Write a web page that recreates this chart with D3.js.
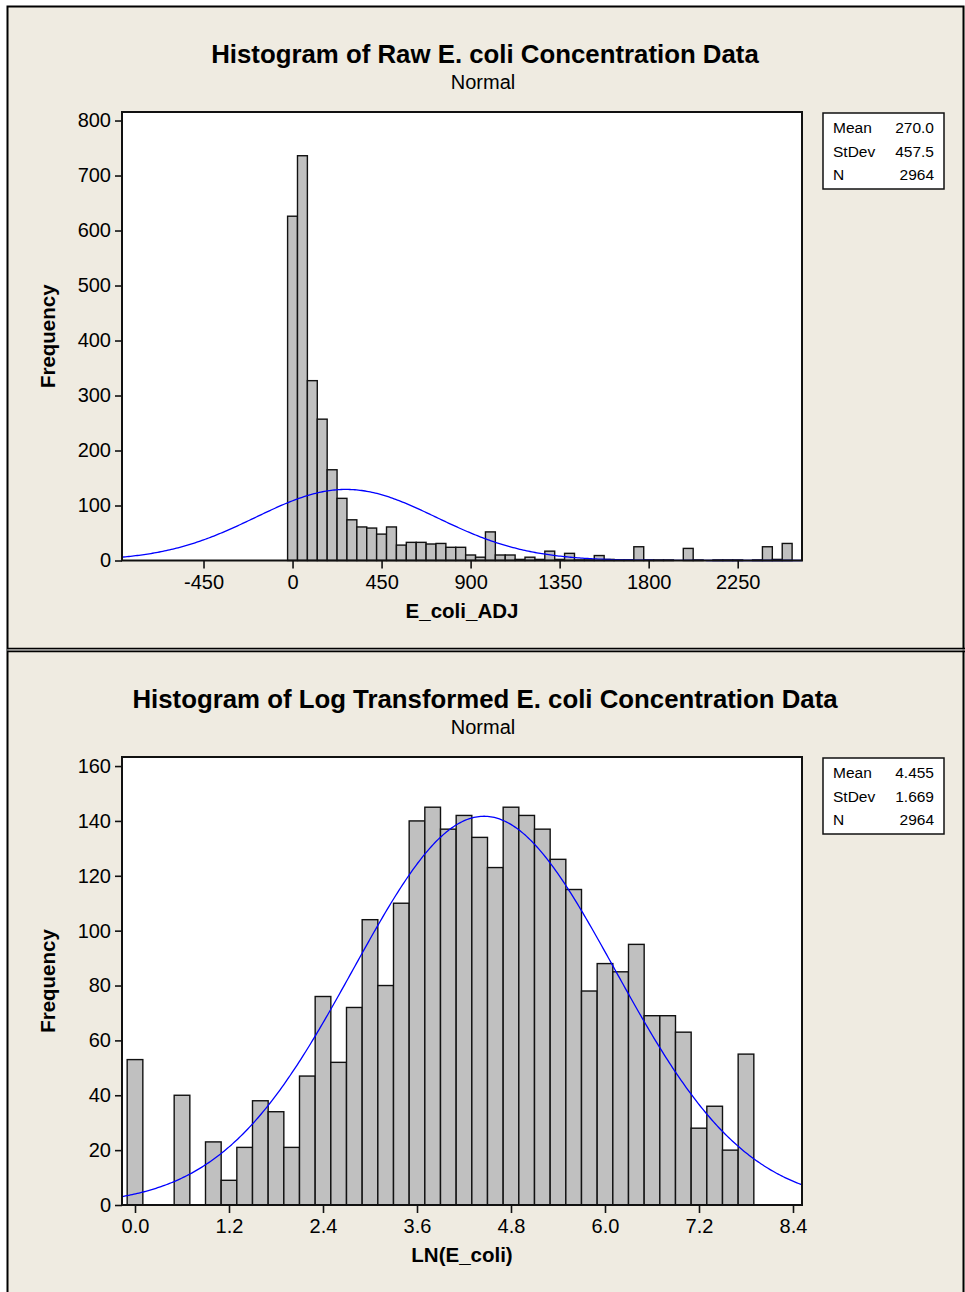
<!DOCTYPE html>
<html>
<head>
<meta charset="utf-8">
<script src="https://cdn.jsdelivr.net/npm/d3@7"></script>
<style>
  body { margin: 0; background: #fff; }
  svg text { font-family: "Liberation Sans", Arial, sans-serif; fill: #000; }
</style>
</head>
<body>
<svg id="chart" width="965" height="1292"></svg>
<script>
// ---- raw E. coli histogram (bin midpoints, width 50)
const rawMids = [0, 50, 100, 150, 200, 250, 300, 350, 400, 450, 500, 550, 600, 650, 700, 750, 800, 850, 900, 950,
  1000, 1050, 1100, 1150, 1200, 1250, 1300, 1350, 1400, 1450, 1500, 1550, 1600, 1650, 1700, 1750, 1800, 1850, 1900, 1950,
  2000, 2050, 2100, 2150, 2200, 2250, 2300, 2350, 2400, 2450, 2500]
const rawCounts = [626, 736, 327, 257, 165, 113, 74, 61, 59, 48, 61, 28, 33, 33, 30, 31, 24, 24, 10, 6,
  52, 10, 10, 2, 6, 2, 17, 2, 13, 1, 1, 9, 2, 1, 1, 25, 1, 1, 1, 0,
  22, 1, 0, 1, 1, 1, 0, 1, 25, 2, 31]
const rawXTicks = [-450, 0, 450, 900, 1350, 1800, 2250]
const rawYTicks = [0, 100, 200, 300, 400, 500, 600, 700, 800]
const rawStats = [['Mean', '270.0'], ['StDev', '457.5'], ['N', '2964']]

// ---- log transformed histogram (bin midpoints, width 0.2)
const lnMids = [0.0, 0.2, 0.4, 0.6, 0.8, 1.0, 1.2, 1.4, 1.6, 1.8, 2.0, 2.2, 2.4, 2.6, 2.8, 3.0, 3.2, 3.4, 3.6, 3.8,
  4.0, 4.2, 4.4, 4.6, 4.8, 5.0, 5.2, 5.4, 5.6, 5.8, 6.0, 6.2, 6.4, 6.6, 6.8, 7.0, 7.2, 7.4, 7.6, 7.8]
const lnCounts = [53, 0, 0, 40, 0, 23, 9, 21, 38, 34, 21, 47, 76, 52, 72, 104, 80, 110, 140, 145,
  137, 142, 134, 123, 145, 142, 137, 126, 115, 78, 88, 85, 95, 69, 69, 63, 28, 36, 20, 55]
const lnXTicks = [0.0, 1.2, 2.4, 3.6, 4.8, 6.0, 7.2, 8.4]
const lnYTicks = [0, 20, 40, 60, 80, 100, 120, 140, 160]
const lnStats = [['Mean', '4.455'], ['StDev', '1.669'], ['N', '2964']]

const svg = d3.select('#chart')

svg.append('rect')
  .attr('x', 7).attr('y', 6).attr('width', 958).attr('height', 1286)
  .attr('fill', '#efebe1')
svg.append('path')
  .attr('d', 'M7.5,1292V6.5H963.5V1292')
  .attr('fill', 'none').attr('stroke', '#000').attr('stroke-width', 2)
svg.append('line').attr('x1', 7).attr('x2', 965).attr('y1', 648.5).attr('y2', 648.5)
  .attr('stroke', '#000').attr('stroke-width', 1.5)
svg.append('line').attr('x1', 7).attr('x2', 965).attr('y1', 650).attr('y2', 650)
  .attr('stroke', '#888').attr('stroke-width', 1.5)
svg.append('line').attr('x1', 7).attr('x2', 965).attr('y1', 651.5).attr('y2', 651.5)
  .attr('stroke', '#000').attr('stroke-width', 1.5)

function drawPanel(opt) {
  let g = svg.append('g').attr('transform', `translate(0,${opt.top})`)
  let left = 122, right = 802, ptop = 106, pbottom = opt.bottom

  let x = d3.scaleLinear().domain(opt.xDomain).range([left, right])
  let y = d3.scaleLinear().domain(opt.yDomain).range([pbottom, ptop])

  g.append('text').attr('x', 485).attr('y', 57)
    .attr('text-anchor', 'middle').attr('font-size', 25.8).attr('font-weight', 'bold')
    .text(opt.title)
  g.append('text').attr('x', 483).attr('y', 83)
    .attr('text-anchor', 'middle').attr('font-size', 20)
    .text('Normal')

  g.append('rect').attr('x', left).attr('y', ptop)
    .attr('width', right - left).attr('height', pbottom - ptop)
    .attr('fill', '#fff')

  let bins = opt.mids.map((m, i) => ({ mid: m, count: opt.counts[i] }))
  g.append('g').selectAll('rect')
    .data(bins)
    .join('rect')
    .attr('x', d => x(d.mid - opt.width / 2))
    .attr('y', d => y(d.count))
    .attr('width', d => x(d.mid + opt.width / 2) - x(d.mid - opt.width / 2))
    .attr('height', d => y(0) - y(d.count))
    .attr('fill', '#c0c0c0')
    .attr('stroke', '#111')
    .attr('stroke-width', 1.4)

  // fitted normal curve
  let mean = opt.mean, sd = opt.sd
  let scale = opt.n * opt.width / (sd * Math.sqrt(2 * Math.PI))
  let xs = d3.range(0, 401).map(i => opt.xDomain[0] + (opt.xDomain[1] - opt.xDomain[0]) * i / 400)
  let line = d3.line()
    .x(d => x(d))
    .y(d => y(scale * Math.exp(-0.5 * ((d - mean) / sd) ** 2)))
  g.append('path').datum(xs)
    .attr('d', line)
    .attr('fill', 'none').attr('stroke', '#0000ff').attr('stroke-width', 1.3)

  g.append('rect').attr('x', left).attr('y', ptop)
    .attr('width', right - left).attr('height', pbottom - ptop)
    .attr('fill', 'none').attr('stroke', '#111').attr('stroke-width', 2)

  let xAxis = g.append('g').attr('transform', `translate(0,${pbottom})`)
    .call(d3.axisBottom(x).tickValues(opt.xTicks).tickSize(8).tickPadding(6)
      .tickFormat(d => opt.xFormat(d).replace('\u2212', '-')))
  xAxis.select('.domain').remove()
  xAxis.selectAll('line').attr('stroke', '#111').attr('stroke-width', 1.6)
  xAxis.selectAll('text').attr('font-size', 20).attr('font-family', '"Liberation Sans", Arial, sans-serif')

  let yAxis = g.append('g').attr('transform', `translate(${left},0)`)
    .call(d3.axisLeft(y).tickValues(opt.yTicks).tickSize(7).tickPadding(4))
  yAxis.select('.domain').remove()
  yAxis.selectAll('line').attr('stroke', '#111').attr('stroke-width', 1.6)
  yAxis.selectAll('text').attr('font-size', 20).attr('font-family', '"Liberation Sans", Arial, sans-serif')

  g.append('text').attr('x', 462).attr('y', pbottom + 57)
    .attr('text-anchor', 'middle').attr('font-size', 20.5).attr('font-weight', 'bold')
    .text(opt.xLabel)
  g.append('text')
    .attr('transform', `translate(55,${(ptop + pbottom) / 2}) rotate(-90)`)
    .attr('text-anchor', 'middle').attr('font-size', 20.5).attr('font-weight', 'bold')
    .text('Frequency')

  // stats box
  let box = g.append('g').attr('transform', 'translate(823,107)')
  box.append('rect').attr('width', 121).attr('height', 76)
    .attr('fill', '#fff').attr('stroke', '#111').attr('stroke-width', 1.5)
  opt.stats.forEach((s, i) => {
    box.append('text').attr('x', 10).attr('y', 20 + i * 23.5)
      .attr('font-size', 15.5).text(s[0])
    box.append('text').attr('x', 111).attr('y', 20 + i * 23.5)
      .attr('text-anchor', 'end').attr('font-size', 15.5).text(s[1])
  })
}

drawPanel({
  top: 6, bottom: 554.5,
  title: 'Histogram of Raw E. coli Concentration Data',
  xLabel: 'E_coli_ADJ',
  mids: rawMids, counts: rawCounts, width: 50,
  xDomain: [-862, 2575], yDomain: [0, 815.5],
  xTicks: rawXTicks, yTicks: rawYTicks, xFormat: d3.format('d'),
  mean: 270.0, sd: 457.5, n: 2964,
  stats: rawStats
})

drawPanel({
  top: 651, bottom: 554,
  title: 'Histogram of Log Transformed E. coli Concentration Data',
  xLabel: 'LN(E_coli)',
  mids: lnMids, counts: lnCounts, width: 0.2,
  xDomain: [-0.166, 8.515], yDomain: [0, 163.3],
  xTicks: lnXTicks, yTicks: lnYTicks, xFormat: d3.format('.1f'),
  mean: 4.455, sd: 1.669, n: 2964,
  stats: lnStats
})
</script>
</body>
</html>
